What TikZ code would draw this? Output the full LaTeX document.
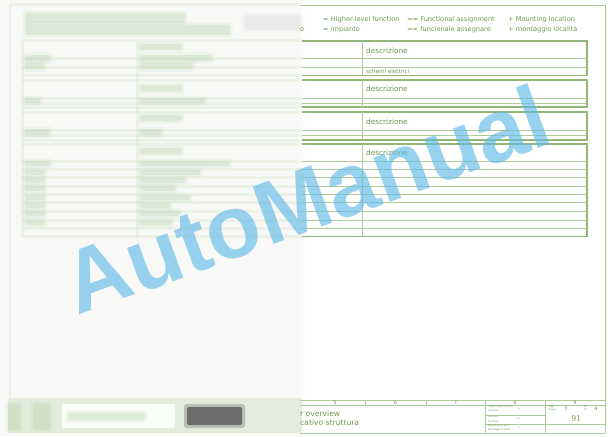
\documentclass[tikz,border=0pt]{standalone}
\usepackage{fontspec}
\setmainfont{DejaVu Sans}
\newfontfamily\wmfont{Liberation Sans}
\newfontfamily\numfont{Liberation Serif}
\definecolor{boxg}{RGB}{145,182,120}
\definecolor{thing}{RGB}{175,202,155}
\definecolor{txtg}{RGB}{110,152,80}
\definecolor{leftbg}{RGB}{248,249,247}
\definecolor{blurg}{RGB}{196,218,180}
\definecolor{blurt}{RGB}{170,200,150}
\definecolor{wmblue}{RGB}{95,185,230}
\newcommand{\blb}[5]{%
  \fill[#5,opacity=0.13,rounded corners=3pt] (#1-2.5,#2-2.5) rectangle (#3+2.5,#4+2.5);
  \fill[#5,opacity=0.22,rounded corners=1.5pt] (#1,#2) rectangle (#3,#4);}
\begin{document}
\begin{tikzpicture}[x=1pt,y=-1pt,
  boxline/.style={draw=boxg,line width=1.1pt},
  thinline/.style={draw=thing,line width=0.55pt},
  lbl/.style={font=\fontsize{6.6}{7}\selectfont,text=txtg,inner sep=0,anchor=west},
  desc/.style={font=\fontsize{7.3}{8}\selectfont,text=txtg,inner sep=0,anchor=west},
  tiny/.style={font=\fontsize{2.4}{2.6}\selectfont,text=txtg,inner sep=0,anchor=west},
  colnum/.style={font=\fontsize{5}{5}\selectfont,text=txtg,inner sep=0},
  fuzz/.style={draw=blurg,line width=3pt,opacity=0.22},
  wm/.style={font=\wmfont\bfseries\fontsize{89}{89}\selectfont,text=wmblue,opacity=0.63,inner sep=0,rotate=20}]
\useasboundingbox (0,0) rectangle (612,436);
\fill[white] (0,0) rectangle (612,436);
% ---------- blurred left part ----------
\fill[leftbg] (0,0) rectangle (300,436);
\shade[left color=leftbg,right color=white] (298,0) rectangle (306,436);
\draw[gray!30,line width=1.5pt,opacity=0.35] (10,5) -- (10,398);
\draw[fuzz] (10,5) -- (302,5);
\blb{25}{13}{185}{23}{blurt}
\blb{25}{25}{230}{35}{blurt}
\blb{245}{16}{300}{30}{gray!40}
\foreach \yy in {41,58.7,67,75.5,80,98.5,103,107,112,130.5,135.5,140,144,161,169.3,177.7,186,194.3,202.7,211,220,228.3,236.7}
  \draw[fuzz] (22,\yy) -- (302,\yy);
\draw[fuzz] (137,41) -- (137,237);
\draw[fuzz] (22,41) -- (22,237);
\blb{140}{44}{182}{50}{blurt}
\blb{25}{55}{50}{61}{blurt}\blb{140}{55}{212}{61}{blurt}
\blb{25}{63}{45}{69}{blurt}\blb{140}{63}{192}{69}{blurt}
\blb{140}{85}{182}{91}{blurt}
\blb{25}{98}{40}{103}{blurt}\blb{140}{98}{205}{103}{blurt}
\blb{140}{115}{182}{121}{blurt}
\blb{25}{129}{50}{135}{blurt}\blb{140}{129}{162}{135}{blurt}
\blb{140}{148}{182}{154}{blurt}
\blb{25}{161}{50}{166}{blurt}\blb{140}{161}{230}{166}{blurt}
\foreach \yy/\ww in {170/200,178/185,186/175,195/190,203/170,211/180,220/172}{
  \blb{25}{\yy}{45}{\yy+5}{blurt}
  \blb{140}{\yy}{\ww}{\yy+5}{blurt}}
% bottom-left blurred title block
\fill[blurg,opacity=0.4] (8,398) rectangle (302,433);
\blb{8}{404}{20}{430}{blurt}
\blb{33}{404}{50}{430}{blurt}
\fill[white,opacity=0.85,rounded corners=2pt] (62,404) rectangle (175,428);
\blb{68}{413}{145}{420}{blurt}
\fill[black!65,opacity=0.3,rounded corners=3pt] (184,404) rectangle (245,428);
\fill[black!65,opacity=0.8,rounded corners=2pt] (187,407) rectangle (242,425);
% ---------- legend ----------
\node[lbl] (l1a) at (323,20) {= Higher-level function};
\node[lbl] (l1b) at (407,20) {== Functional assignment};
\node[lbl] (l1c) at (508,20) {+ Mounting location};
\node[lbl] (l2o) at (300,30) {o};
\node[lbl] (l2a) at (323,30) {= impianto};
\node[lbl] (l2b) at (407,30) {== funcionale assegnare};
\node[lbl] (l2c) at (508,30) {+ montaggio località};
% ---------- frame ----------
\draw[thinline] (300,5) -- (605,5) -- (605,433);
% ---------- box 1 ----------
\draw[boxline] (302,41) -- (587,41) -- (587,75.5) -- (302,75.5);
\draw[thinline] (302,58.7) -- (587,58.7) (302,67) -- (587,67) (362,41) -- (362,75.5);
\node[desc] (d1) at (366,50.5) {descrizione};
\node[desc,font=\fontsize{5.6}{6}\selectfont] (s1) at (366,71.5) {schemi elettrici};
% ---------- box 2 ----------
\draw[boxline] (302,80) -- (587,80) -- (587,107) -- (302,107);
\draw[thinline] (302,98.5) -- (587,98.5) (302,103) -- (587,103) (362,80) -- (362,107);
\node[desc] (d2) at (366,89) {descrizione};
% ---------- box 3 ----------
\draw[boxline] (302,112) -- (587,112) -- (587,140) -- (302,140);
\draw[thinline] (302,130.5) -- (587,130.5) (302,135.5) -- (587,135.5) (362,112) -- (362,140);
\node[desc] (d3) at (366,121.5) {descrizione};
% ---------- box 4 ----------
\draw[boxline] (302,144) -- (587,144) -- (587,236.7) -- (302,236.7);
\foreach \yy in {161,169.3,177.7,186,194.3,202.7,211,220,228.3}
  \draw[thinline] (302,\yy) -- (587,\yy);
\draw[thinline] (362,144) -- (362,236.7);
\node[desc] (d4) at (366,152.5) {descrizione};
% ---------- title block ----------
\draw[thinline] (300,400) -- (605,400) (300,405) -- (605,405) (300,433) -- (605,433);
\draw[thinline] (365,400) -- (365,405) (426,400) -- (426,405) (485,400) -- (485,433) (545,400) -- (545,433);
\draw[thinline] (485,415) -- (545,415) (485,424) -- (545,424) (545,424) -- (605,424);
\node[colnum] (c5) at (335,402.6) {5};
\node[colnum] (c6) at (395.5,402.6) {6};
\node[colnum] (c7) at (455.5,402.6) {7};
\node[colnum] (c8) at (515,402.6) {8};
\node[colnum] (c9) at (575,402.6) {9};
\node[lbl,font=\fontsize{7.6}{8}\selectfont] (t1) at (300,414) {r overview};
\node[lbl,font=\fontsize{7.6}{8}\selectfont] (t2) at (300,423) {cativo struttura};
\node[tiny] (h1) at (488,407) {Higher-level function};
\node[tiny] (h2) at (488,411) {Impianto};
\node[tiny] (h3) at (518,409) {=};
\node[tiny] (f1) at (488,417) {Function};
\node[tiny] (f2) at (488,421.5) {Funzione};
\node[tiny] (f3) at (516,419) {==};
\node[tiny] (m1) at (488,426) {Mounting location};
\node[tiny] (m2) at (488,429.5) {Montaggio località};
\node[tiny] (m3) at (518,428) {+};
\node[tiny] (p1) at (548,406.5) {Page};
\node[tiny] (p2) at (548,409.5) {Pagina};
\node[lbl,font=\numfont\fontsize{6.5}{7}\selectfont] (p3) at (564,408) {3};
\node[tiny] (o1) at (584,406.5) {Of};
\node[tiny] (o2) at (584,409.5) {Da};
\node[lbl,font=\numfont\fontsize{6.5}{7}\selectfont] (p4) at (594,408) {4};
\node[font=\numfont\fontsize{9}{9}\selectfont,text=txtg,inner sep=0] (pg) at (576,418.5) {91};
% ---------- watermark ----------
\node[wm] (wmk) at (306,199) {AutoManual};
\end{tikzpicture}
\end{document}
